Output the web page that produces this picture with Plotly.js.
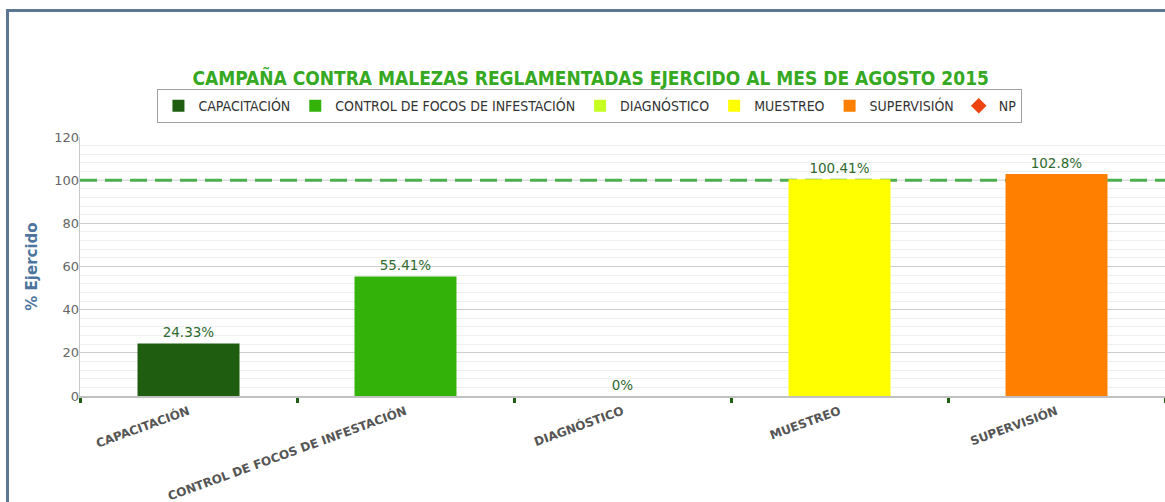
<!DOCTYPE html>
<html>
<head>
<meta charset="utf-8">
<script src="https://cdn.plot.ly/plotly-3.0.1.min.js"></script>
<style>
  html, body { margin: 0; padding: 0; background: #ffffff; }
  #chart { width: 1165px; height: 502px; position: absolute; left: 0; top: 0; }
  #frame { position: absolute; left: 6px; top: 9px; width: 1165px; height: 500px;
           border-left: 3px solid #5b7794; border-top: 3px solid #5b7794;
           pointer-events: none; }
</style>
</head>
<body>
<div id="chart"></div>
<div id="frame"></div>
<script>
const categories = ["CAPACITACIÓN", "CONTROL DE FOCOS DE INFESTACIÓN", "DIAGNÓSTICO", "MUESTREO", "SUPERVISIÓN"];
const values = [24.33, 55.41, 0, 100.41, 102.8];
const labels = ["24.33%", "55.41%", "0%", "100.41%", "102.8%"];
const colors = ["#1f5e10", "#33b20a", "#c6ff1f", "#ffff00", "#ff8000"];
const npName = "NP";
const npColor = "#ee4411";
const target = 100;
const yTicks = [0, 20, 40, 60, 80, 100, 120];
const yRange = [0, 120];

// grid positions: majors except the target line, minors every 4 units
const majorGrid = yTicks.filter(v => v !== target);
const minorTicks = [];
for (let v = yRange[0]; v <= yRange[1]; v += 4) { if (v % 20 !== 0) minorTicks.push(v); }

const traces = categories.map((c, i) => ({
  type: "bar",
  name: c,
  x: [c],
  y: [values[i]],
  text: [labels[i]],
  textposition: "outside",
  cliponaxis: false,
  textfont: { family: "DejaVu Sans", size: 13.5, color: "#2f6a2f" },
  marker: { color: colors[i], line: { width: 0 } },
  width: 0.47,
  hoverinfo: "x+y"
}));
traces.push({
  type: "scatter",
  mode: "markers",
  name: npName,
  x: [categories[0]],
  y: [null],
  yaxis: "y2",
  marker: { symbol: "diamond", color: npColor, size: 13 }
});

const layout = {
  width: 1165,
  height: 502,
  margin: { l: 80, r: 0, t: 137, b: 106 },
  paper_bgcolor: "#ffffff",
  plot_bgcolor: "#ffffff",
  barmode: "overlay",
  showlegend: true,
  title: {
    text: "<b>CAMPAÑA CONTRA MALEZAS REGLAMENTADAS EJERCIDO AL MES DE AGOSTO 2015</b>",
    font: { family: "DejaVu Sans Condensed", size: 19, color: "#36a922" },
    x: 0.507, xanchor: "center",
    y: 1 - 78 / 502, yanchor: "middle", yref: "container"
  },
  legend: {
    orientation: "h",
    x: 0.47, xanchor: "center",
    y: 1.185, yanchor: "top",
    bordercolor: "#a0a0a0", borderwidth: 1,
    font: { family: "DejaVu Sans Condensed", size: 14, color: "#333333" },
    itemsizing: "constant",
    traceorder: "normal"
  },
  xaxis: {
    type: "category",
    categoryorder: "array",
    categoryarray: categories,
    tickangle: -20,
    tickfont: { family: "DejaVu Sans", size: 12, color: "#555555", weight: "bold" },
    ticklabelstandoff: 2,
    tickson: "boundaries",
    ticks: "outside",
    ticklen: 5,
    tickwidth: 3,
    tickcolor: "#1f5e10",
    showline: true,
    linecolor: "#c0c0c0",
    linewidth: 2,
    showgrid: false,
    zeroline: false,
    fixedrange: true
  },
  yaxis: {
    range: yRange,
    tickvals: majorGrid,
    showticklabels: false,
    showline: true,
    linecolor: "#c8c8c8",
    linewidth: 1,
    gridcolor: "#cccccc",
    gridwidth: 1,
    zeroline: false,
    ticks: "",
    minor: { tickvals: minorTicks, showgrid: true, gridcolor: "#efefef", gridwidth: 1 },
    fixedrange: true
  },
  yaxis2: {
    overlaying: "y",
    side: "left",
    anchor: "x",
    range: yRange,
    tickvals: yTicks,
    tickfont: { family: "DejaVu Sans", size: 13, color: "#666666" },
    showgrid: false,
    showline: false,
    zeroline: false,
    ticks: "",
    title: {
      text: "<b>% Ejercido</b>",
      font: { family: "DejaVu Sans", size: 15, color: "#4d759e" },
      standoff: 12
    },
    fixedrange: true
  },
  shapes: [
    {
      type: "line", xref: "paper", x0: 0, x1: 1, yref: "y", y0: target, y1: target,
      line: { color: "#cccccc", width: 1 },
      layer: "between"
    },
    {
      type: "line", xref: "paper", x0: 0, x1: 1, yref: "y", y0: target, y1: target,
      line: { color: "#4caf50", width: 3, dash: "17px,8px" },
      layer: "between"
    }
  ]
};

Plotly.newPlot("chart", traces, layout, { displayModeBar: false, staticPlot: true });
</script>
</body>
</html>
